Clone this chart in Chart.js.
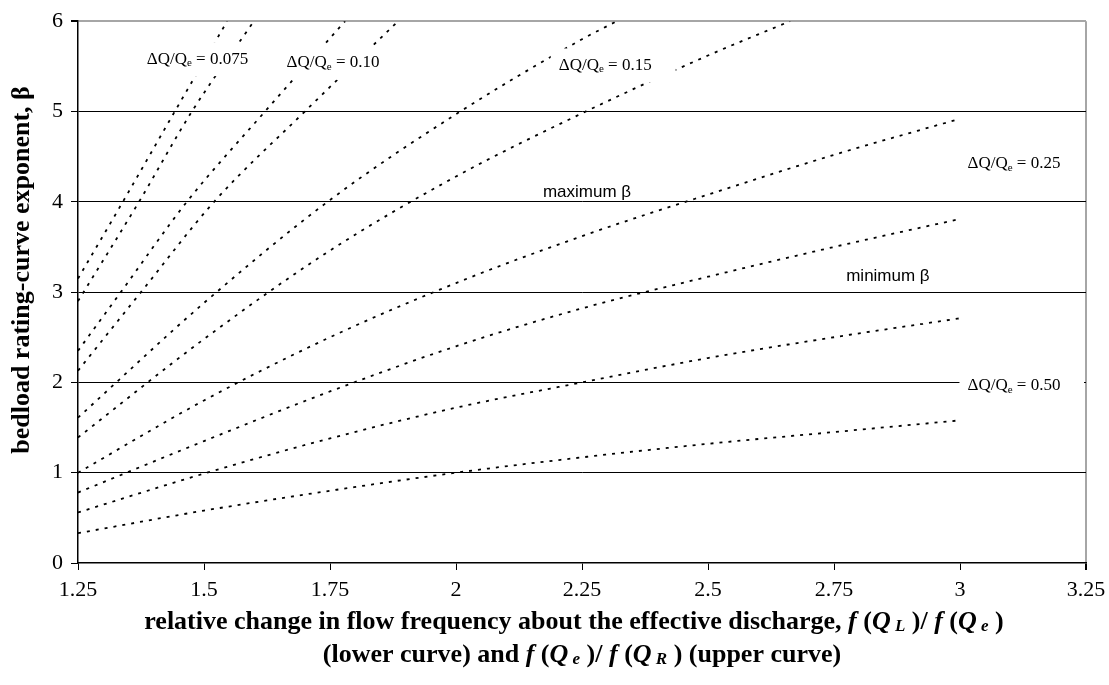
<!DOCTYPE html>
<html>
<head>
<meta charset="utf-8">
<script src="https://cdn.jsdelivr.net/npm/chart.js@4.4.1/dist/chart.umd.min.js"></script>
<style>
  body { margin: 0; background: #fff; }
  canvas { display: block; }
</style>
</head>
<body>
<canvas id="myChart" width="1109" height="685"></canvas>
<script>
    // x ticks: relative change in flow frequency
    const xTickValues = [1.25, 1.5, 1.75, 2, 2.25, 2.5, 2.75, 3, 3.25];
    const xTickLabels = ['1.25', '1.5', '1.75', '2', '2.25', '2.5', '2.75', '3', '3.25'];
    const yTickLabels = ['0', '1', '2', '3', '4', '5', '6'];

    // bedload rating-curve exponent, one pair of curves per dQ/Qe
    const beta050LoX = [1.25, 1.5, 1.75, 2, 2.25, 2.5, 2.75, 3];
    const beta050LoY = [0.33, 0.58, 0.80, 1.00, 1.17, 1.32, 1.45, 1.58];
    const beta050HiX = [1.25, 1.5, 1.75, 2, 2.25, 2.5, 2.75, 3];
    const beta050HiY = [0.56, 0.99, 1.38, 1.72, 2.00, 2.27, 2.50, 2.71];

    const beta025LoX = [1.25, 1.5, 1.75, 2, 2.25, 2.5, 2.75, 3];
    const beta025LoY = [0.78, 1.35, 1.90, 2.40, 2.82, 3.17, 3.50, 3.81];
    const beta025HiX = [1.25, 1.5, 1.75, 2, 2.25, 2.5, 2.75, 3];
    const beta025HiY = [1.00, 1.80, 2.50, 3.10, 3.62, 4.08, 4.52, 4.92];

    const beta015LoX = [1.25, 1.5, 1.75, 2, 2.25, 2.5, 2.663];
    const beta015LoY = [1.39, 2.48, 3.46, 4.28, 4.98, 5.62, 6.0];
    const beta015HiX = [1.25, 1.5, 1.75, 2, 2.25, 2.319];
    const beta015HiY = [1.61, 2.88, 4.02, 4.97, 5.80, 6.0];

    const beta010LoX = [1.25, 1.375, 1.52, 1.7, 1.885];
    const beta010LoY = [2.13, 3.0, 4.0, 5.0, 6.0];
    const beta010HiX = [1.25, 1.335, 1.466, 1.621, 1.78];
    const beta010HiY = [2.35, 3.0, 4.0, 5.0, 6.0];

    const beta0075LoX = [1.25, 1.371, 1.476, 1.599];
    const beta0075LoY = [2.9, 4.0, 5.0, 6.0];
    const beta0075HiX = [1.25, 1.339, 1.442, 1.546];
    const beta0075HiY = [3.15, 4.0, 5.0, 6.0];

    const curves = [
        [beta050LoX, beta050LoY], [beta050HiX, beta050HiY],
        [beta025LoX, beta025LoY], [beta025HiX, beta025HiY],
        [beta015LoX, beta015LoY], [beta015HiX, beta015HiY],
        [beta010LoX, beta010LoY], [beta010HiX, beta010HiY],
        [beta0075LoX, beta0075LoY], [beta0075HiX, beta0075HiY]
    ];

    // text labels inside the plot, placed in data units
    const ratioLabels = [
        { value: '0.075', x: 1.487, y: 5.58 },
        { value: '0.10', x: 1.756, y: 5.54 },
        { value: '0.15', x: 2.296, y: 5.51, padRight: 24 },
        { value: '0.25', x: 3.107, y: 4.42 },
        { value: '0.50', x: 3.107, y: 1.96, toEdge: true }
    ];
    const betaLabels = [
        { text: 'maximum \u03b2', x: 2.26, y: 4.11 },
        { text: 'minimum \u03b2', x: 2.857, y: 3.17 }
    ];

    const SERIF = "'Liberation Serif', 'Times New Roman', serif";
    const SANS = "'Liberation Sans', Arial, sans-serif";

    function partsWidth(ctx, parts) {
        let w = 0;
        parts.forEach(p => { ctx.font = p.font; w += ctx.measureText(p.t).width; });
        return w;
    }

    function drawParts(ctx, parts, cx, cy) {
        let x = cx - partsWidth(ctx, parts) / 2;
        parts.forEach(p => {
            ctx.font = p.font;
            ctx.fillText(p.t, x, cy + (p.dy || 0));
            x += ctx.measureText(p.t).width;
        });
    }

    const labelsPlugin = {
        id: 'labels',
        afterDatasetsDraw(chart) {
            const ctx = chart.ctx;
            const xs = chart.scales.x, ys = chart.scales.y;
            const area = chart.chartArea;
            ctx.save();
            ctx.textBaseline = 'middle';

            ratioLabels.forEach(l => {
                const parts = [
                    { t: '\u0394Q/Q', font: '17px ' + SERIF },
                    { t: 'e', font: '11px ' + SERIF, dy: 4 },
                    { t: ' = ' + l.value, font: '17px ' + SERIF }
                ];
                const cx = xs.getPixelForValue(l.x), cy = ys.getPixelForValue(l.y);
                const w = partsWidth(ctx, parts);
                const left = cx - w / 2 - 8;
                const right = l.toEdge ? area.right - 2 : cx + w / 2 + (l.padRight || 10);
                // white box hides curves and gridlines behind the label
                ctx.fillStyle = '#fff';
                ctx.fillRect(left, cy - 17, right - left, 34);
                ctx.fillStyle = '#000';
                drawParts(ctx, parts, cx, cy);
            });

            ctx.font = '17px ' + SANS;
            ctx.textAlign = 'center';
            betaLabels.forEach(l => {
                ctx.fillText(l.text, xs.getPixelForValue(l.x), ys.getPixelForValue(l.y));
            });
            ctx.restore();
        },
        afterDraw(chart) {
            const ctx = chart.ctx;
            const area = chart.chartArea;
            ctx.save();
            ctx.fillStyle = '#000';
            ctx.textBaseline = 'middle';

            const B = 'bold 26px ' + SERIF;
            const BI = 'italic bold 26px ' + SERIF;
            const BS = 'italic bold 17px ' + SERIF;
            const cx = (area.left + area.right) / 2;

            drawParts(ctx, [
                { t: 'relative change in flow frequency about the effective discharge, ', font: B },
                { t: 'f', font: BI }, { t: ' (', font: B }, { t: 'Q', font: BI },
                { t: ' L', font: BS, dy: 5 }, { t: ' )/ ', font: B },
                { t: 'f', font: BI }, { t: ' (', font: B }, { t: 'Q', font: BI },
                { t: ' e', font: BS, dy: 5 }, { t: ' )', font: B }
            ], cx - 8, 622);

            drawParts(ctx, [
                { t: '(lower curve) and ', font: B },
                { t: 'f', font: BI }, { t: ' (', font: B }, { t: 'Q', font: BI },
                { t: ' e', font: BS, dy: 5 }, { t: ' )/ ', font: B },
                { t: 'f', font: BI }, { t: ' (', font: B }, { t: 'Q', font: BI },
                { t: ' R', font: BS, dy: 5 }, { t: ' ) (upper curve)', font: B }
            ], cx, 655);

            // y axis title
            ctx.translate(22, 270);
            ctx.rotate(-Math.PI / 2);
            ctx.font = 'bold 26px ' + SERIF;
            ctx.textAlign = 'center';
            ctx.fillText('bedload rating-curve exponent, \u03b2', 0, 0);
            ctx.restore();
        }
    };

    const data = {
        datasets: curves.map(c => ({
            data: c[0].map((x, i) => ({ x: x, y: c[1][i] })),
            borderColor: '#000',
            borderWidth: 1.8,
            borderDash: [3, 6],
            pointRadius: 0,
            fill: false,
            cubicInterpolationMode: 'monotone'
        }))
    };

    const config = {
        type: 'line',
        data: data,
        plugins: [labelsPlugin],
        options: {
            responsive: false,
            animation: false,
            layout: { padding: { top: 18, right: 23, left: 0, bottom: 0 } },
            plugins: {
                legend: { display: false },
                tooltip: { enabled: false }
            },
            scales: {
                x: {
                    type: 'linear',
                    min: 1.25,
                    max: 3.25,
                    afterFit: s => {
                        s.height = 122;
                        s.paddingLeft = 0;
                        s.paddingRight = 0;
                    },
                    afterBuildTicks: s => { s.ticks = xTickValues.map(v => ({ value: v })); },
                    ticks: {
                        callback: (v) => xTickLabels[xTickValues.indexOf(v)],
                        color: '#000',
                        font: { family: SERIF, size: 22 },
                        padding: 7,
                        maxRotation: 0
                    },
                    grid: {
                        color: c => (c.tick && c.tick.value === 3.25) ? '#a6a6a6' : 'rgba(0,0,0,0)',
                        lineWidth: c => (c.tick && c.tick.value === 3.25) ? 2 : 1,
                        tickColor: '#000',
                        tickLength: 7
                    },
                    border: { color: '#000', width: 1.5 }
                },
                y: {
                    min: 0,
                    max: 6,
                    afterFit: s => { s.width = 78; },
                    ticks: {
                        stepSize: 1,
                        callback: (v) => yTickLabels[v],
                        color: '#000',
                        font: { family: SERIF, size: 22 },
                        padding: 8
                    },
                    grid: {
                        color: c => {
                            const v = c.tick ? c.tick.value : -1;
                            if (v === 6) return '#a6a6a6';
                            if (v === 0) return 'rgba(0,0,0,0)';
                            return '#000';
                        },
                        lineWidth: c => (c.tick && c.tick.value === 6) ? 2 : 1,
                        tickColor: '#000',
                        tickLength: 7
                    },
                    border: { color: '#000', width: 1.5 }
                }
            }
        }
    };

    const myChart = new Chart(
        document.getElementById('myChart'),
        config
    );
</script>
</body>
</html>
